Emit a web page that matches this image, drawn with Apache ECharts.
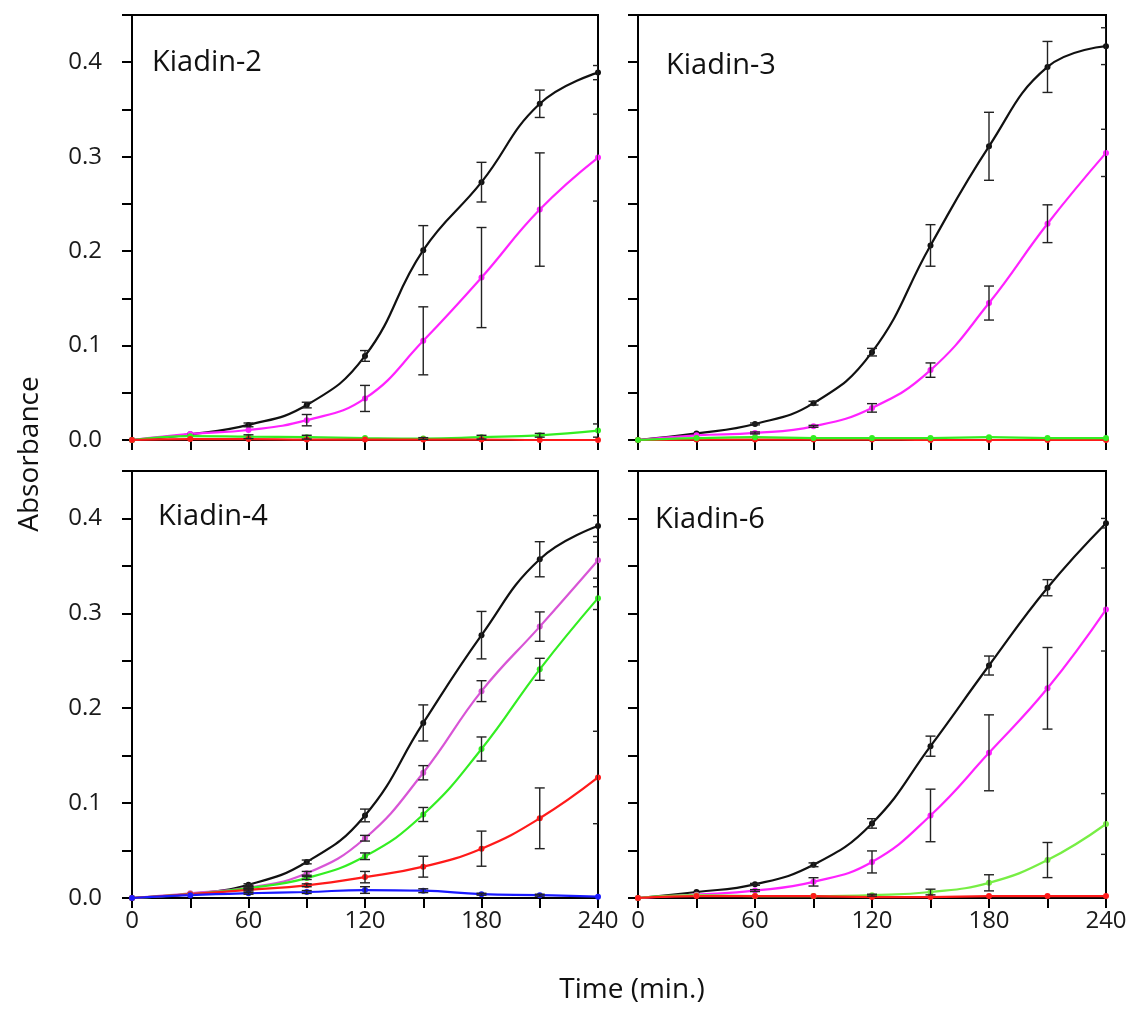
<!DOCTYPE html>
<html>
<head>
<meta charset="utf-8">
<script src="https://cdn.jsdelivr.net/npm/echarts@6/dist/echarts.min.js"></script>
<style>
html,body{margin:0;padding:0;background:#fff;}
#chart{width:1138px;height:1009px;}
</style>
</head>
<body>
<div id="chart"></div>
<script>
// ---- data ----
const times = [0, 30, 60, 90, 120, 150, 180, 210, 240];
const xTickLabels = [0, 60, 120, 180, 240];
const yTickLabels = [0.0, 0.1, 0.2, 0.3, 0.4];
const panelTitles = ['Kiadin-2', 'Kiadin-3', 'Kiadin-4', 'Kiadin-6'];

// Kiadin-2
const k2Black = [0, 0.006, 0.016, 0.037, 0.089, 0.201, 0.273, 0.356, 0.389];
const k2BlackErr = [0, 0, 0.002, 0.003, 0.0057, 0.026, 0.021, 0.0145, 0.0075];
const k2Magenta = [0, 0.0064, 0.0106, 0.021, 0.044, 0.105, 0.172, 0.244, 0.299];
const k2MagentaErr = [0, 0, 0, 0.006, 0.0138, 0.036, 0.053, 0.06, 0.046];
const k2Green = [0, 0.004, 0.0035, 0.003, 0.002, 0.0015, 0.003, 0.005, 0.010];
const k2GreenErr = [0, 0, 0.002, 0.002, 0, 0.001, 0.002, 0.002, 0.007];
const k2Red = [0, 0.001, 0.001, 0.0005, 0.0005, 0.0005, 0.0005, 0.0, 0.0];

// Kiadin-3
const k3Black = [0, 0.007, 0.017, 0.039, 0.093, 0.206, 0.311, 0.395, 0.417];
const k3BlackErr = [0, 0, 0.001, 0.002, 0.004, 0.022, 0.036, 0.027, 0.0195];
const k3Magenta = [0, 0.005, 0.0075, 0.0145, 0.034, 0.074, 0.145, 0.229, 0.304];
const k3MagentaErr = [0, 0, 0.001, 0.001, 0.0045, 0.0076, 0.018, 0.02, 0.025];
const k3Green = [0, 0.002, 0.003, 0.002, 0.002, 0.002, 0.003, 0.002, 0.002];
const k3Red = [0, 0.0005, 0.0005, 0.0005, 0.0005, 0.0, 0.0, 0.0, 0.0];

// Kiadin-4
const k4Black = [0, 0.004, 0.014, 0.038, 0.087, 0.1845, 0.277, 0.357, 0.392];
const k4BlackErr = [0, 0, 0.001, 0.002, 0.0067, 0.019, 0.025, 0.0185, 0.011];
const k4Magenta = [0, 0.005, 0.011, 0.026, 0.063, 0.132, 0.218, 0.286, 0.356];
const k4MagentaErr = [0, 0, 0.001, 0.002, 0.003, 0.0075, 0.011, 0.0155, 0.019];
const k4Green = [0, 0.004, 0.0105, 0.021, 0.044, 0.088, 0.157, 0.241, 0.316];
const k4GreenErr = [0, 0, 0.001, 0.0015, 0.0035, 0.0074, 0.0127, 0.0116, 0.012];
const k4Red = [0, 0.004, 0.0085, 0.0134, 0.022, 0.033, 0.052, 0.084, 0.127];
const k4RedErr = [0, 0, 0.001, 0.0015, 0.006, 0.011, 0.0185, 0.032, 0.0487];
const k4Blue = [0, 0.003, 0.005, 0.0063, 0.0084, 0.0077, 0.004, 0.003, 0.0014];
const k4BlueErr = [0, 0, 0.001, 0.0015, 0.0035, 0.002, 0.001, 0.001, 0];

// Kiadin-6
const k6Black = [0, 0.0063, 0.0144, 0.035, 0.0786, 0.160, 0.245, 0.327, 0.395];
const k6BlackErr = [0, 0, 0.001, 0.002, 0.005, 0.0106, 0.01, 0.0085, 0.005];
const k6Magenta = [0, 0.0035, 0.0078, 0.017, 0.038, 0.087, 0.153, 0.221, 0.304];
const k6MagentaErr = [0, 0, 0.001, 0.0044, 0.0116, 0.0277, 0.040, 0.043, 0.0437];
const k6Green = [0, 0.003, 0.002, 0.002, 0.003, 0.0063, 0.016, 0.040, 0.078];
const k6GreenErr = [0, 0, 0, 0, 0.001, 0.003, 0.0085, 0.0185, 0.032];
const k6Red = [0, 0.002, 0.002, 0.002, 0.001, 0.001, 0.002, 0.002, 0.002];

// ---- styles / layout ----
const C = {
  black: '#111111', magenta: '#ff22ff', orchid: '#d855d6',
  green: '#33ee22', green6: '#77ee44', red: '#ff1a1a', blue: '#1a1aff'
};
const FONT = '"Open Sans", "Noto Sans", sans-serif';
const grids = [
  {left: 132, top: 15, width: 466, height: 425},
  {left: 638, top: 15, width: 468, height: 425},
  {left: 132, top: 471, width: 466, height: 427},
  {left: 638, top: 471, width: 468, height: 427}
];

const panels = [
  {lines: [[k2Black, C.black], [k2Magenta, C.magenta], [k2Green, C.green], [k2Red, C.red]],
   errs: [[k2Black, k2BlackErr], [k2Magenta, k2MagentaErr], [k2Green, k2GreenErr]],
   xLabels: false, yLabels: true},
  {lines: [[k3Black, C.black], [k3Magenta, C.magenta], [k3Red, C.red], [k3Green, C.green]],
   errs: [[k3Black, k3BlackErr], [k3Magenta, k3MagentaErr]],
   xLabels: false, yLabels: false},
  {lines: [[k4Black, C.black], [k4Magenta, C.orchid], [k4Green, C.green], [k4Red, C.red], [k4Blue, C.blue]],
   errs: [[k4Black, k4BlackErr], [k4Magenta, k4MagentaErr], [k4Green, k4GreenErr], [k4Red, k4RedErr], [k4Blue, k4BlueErr]],
   xLabels: true, yLabels: true},
  {lines: [[k6Black, C.black], [k6Magenta, C.magenta], [k6Green, C.green6], [k6Red, C.red]],
   errs: [[k6Black, k6BlackErr], [k6Magenta, k6MagentaErr], [k6Green, k6GreenErr]],
   xLabels: true, yLabels: false}
];

const xAxes = [], yAxes = [], series = [];
panels.forEach((p, i) => {
  xAxes.push({
    type: 'value', gridIndex: i, min: 0, max: 240, interval: 30,
    axisLine: {show: true, onZero: false, lineStyle: {color: '#000', width: 2}},
    axisTick: {show: true, length: 10, lineStyle: {color: '#000', width: 2}},
    axisLabel: {show: p.xLabels, margin: 11, color: '#1a1a1a', fontFamily: FONT, fontSize: 24,
      formatter: v => (xTickLabels.indexOf(v) >= 0 ? String(v) : '')},
    splitLine: {show: false}
  });
  yAxes.push({
    type: 'value', gridIndex: i, min: 0, max: 0.45, interval: 0.05,
    axisLine: {show: true, lineStyle: {color: '#000', width: 2}},
    axisTick: {show: true, length: 10, lineStyle: {color: '#000', width: 2}},
    axisLabel: {show: p.yLabels, margin: 30, color: '#1a1a1a', fontFamily: FONT, fontSize: 24,
      formatter: v => {
        const r = Math.round(v * 100) / 100;
        return yTickLabels.some(t => Math.abs(t - r) < 1e-9) ? r.toFixed(1) : '';
      }},
    splitLine: {show: false}
  });
  p.lines.forEach(([vals, col]) => {
    series.push({
      type: 'line', xAxisIndex: i, yAxisIndex: i, z: 3,
      data: times.map((t, k) => [t, vals[k]]),
      smooth: 0.45, symbol: 'circle', symbolSize: 6,
      lineStyle: {color: col, width: 2.2}, itemStyle: {color: col},
      clip: false
    });
  });
  const errData = [];
  p.errs.forEach(([vals, errs]) => {
    times.forEach((t, k) => { if (errs[k] > 0) errData.push([t, vals[k], errs[k]]); });
  });
  series.push({
    type: 'custom', xAxisIndex: i, yAxisIndex: i, z: 4, clip: true,
    data: errData,
    renderItem: (params, api) => {
      const x = api.value(0), y = api.value(1), e = api.value(2);
      const top = api.coord([x, y + e]);
      const bot = api.coord([x, y - e]);
      const hw = 5;
      const st = {stroke: '#222', lineWidth: 1.4};
      return {type: 'group', children: [
        {type: 'line', shape: {x1: top[0], y1: top[1], x2: bot[0], y2: bot[1]}, style: st},
        {type: 'line', shape: {x1: top[0] - hw, y1: top[1], x2: top[0] + hw, y2: top[1]}, style: st},
        {type: 'line', shape: {x1: bot[0] - hw, y1: bot[1], x2: bot[0] + hw, y2: bot[1]}, style: st}
      ]};
    }
  });
});

const titlePos = [[152, 63], [666, 66], [158, 517], [655, 520]];
const graphics = panelTitles.map((t, i) => ({
  type: 'text', x: titlePos[i][0], y: titlePos[i][1],
  style: {text: t, font: '29px ' + FONT, fill: '#111', textAlign: 'left', textVerticalAlign: 'middle'}
}));
graphics.push({
  type: 'text', x: 30, y: 454, rotation: Math.PI / 2,
  style: {text: 'Absorbance', font: '28px ' + FONT, fill: '#111', textAlign: 'center', textVerticalAlign: 'middle'}
});
graphics.push({
  type: 'text', x: 632, y: 990,
  style: {text: 'Time (min.)', font: '28px ' + FONT, fill: '#111', textAlign: 'center', textVerticalAlign: 'middle'}
});

const chart = echarts.init(document.getElementById('chart'), null, {renderer: 'canvas'});
chart.setOption({
  animation: false,
  backgroundColor: '#fff',
  grid: grids.map(g => Object.assign({show: true, borderColor: '#000', borderWidth: 2, backgroundColor: 'transparent'}, g)),
  xAxis: xAxes,
  yAxis: yAxes,
  series: series,
  graphic: graphics
});
</script>
</body>
</html>
